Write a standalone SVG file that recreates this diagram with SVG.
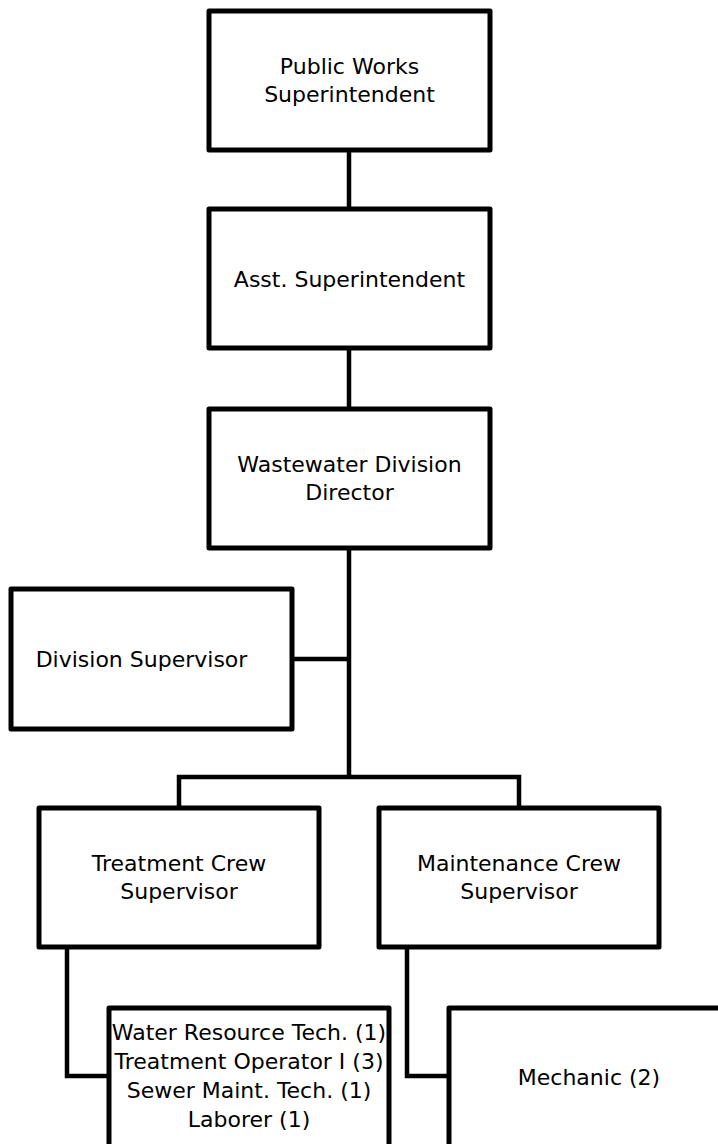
<svg xmlns="http://www.w3.org/2000/svg" width="718" height="1144" viewBox="0 0 718 1144">
<style>
.box{fill:#fff;stroke:#000;stroke-width:5;stroke-linejoin:round}
.con{fill:none;stroke:#000;stroke-width:4.5;stroke-linejoin:miter}
text{font-family:"DejaVu Sans","Open Sans","Liberation Sans",sans-serif;font-size:22px;fill:#000;text-anchor:middle}
</style>
<rect width="718" height="1144" fill="#fff"/>
<g id="connectors">
<path class="con" d="M349,150 V209"/>
<path class="con" d="M349,348 V409"/>
<path class="con" d="M349,548 V777"/>
<path class="con" d="M292,659 H349"/>
<path class="con" d="M179,808 V777 H519 V808"/>
<path class="con" d="M67,947 V1076 H109"/>
<path class="con" d="M407,947 V1076 H449"/>
</g>
<g id="n1"><rect class="box" x="209" y="11" width="281" height="139"/><text x="349.5" y="74">Public Works</text><text x="349.5" y="102">Superintendent</text></g>
<g id="n2"><rect class="box" x="209" y="209" width="281" height="139"/><text x="349.5" y="287">Asst. Superintendent</text></g>
<g id="n3"><rect class="box" x="209" y="409" width="281" height="139"/><text x="349.5" y="472">Wastewater Division</text><text x="349.5" y="500">Director</text></g>
<g id="n4"><rect class="box" x="11" y="589" width="281" height="140"/><text x="141.5" y="667">Division Supervisor</text></g>
<g id="n5"><rect class="box" x="39" y="808" width="280" height="139"/><text x="179" y="871">Treatment Crew</text><text x="179" y="899">Supervisor</text></g>
<g id="n6"><rect class="box" x="379" y="808" width="280" height="139"/><text x="519" y="871">Maintenance Crew</text><text x="519" y="899">Supervisor</text></g>
<g id="n7"><rect class="box" x="109" y="1008" width="280" height="160"/><text x="249" y="1040">Water Resource Tech. (1)</text><text x="249" y="1069">Treatment Operator I (3)</text><text x="249" y="1098">Sewer Maint. Tech. (1)</text><text x="249" y="1127">Laborer (1)</text></g>
<g id="n8"><rect class="box" x="449" y="1008" width="280" height="160"/><text x="589" y="1085">Mechanic (2)</text></g>
</svg>
